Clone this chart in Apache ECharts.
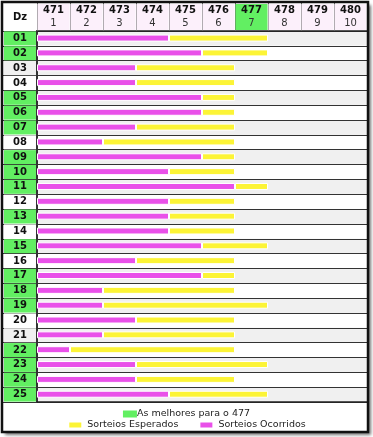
<!DOCTYPE html>
<html>
<head>
<meta charset="utf-8">
<script src="https://cdn.jsdelivr.net/npm/echarts@6/dist/echarts.min.js"></script>
<style>
html, body { margin: 0; padding: 0; background: #fff; }
#chart { width: 373px; height: 437px; }
</style>
</head>
<body>
<div id="chart"></div>
<script>
// dezenas (linhas)
const dezenas = ['01','02','03','04','05','06','07','08','09','10','11','12','13','14','15','16','17','18','19','20','21','22','23','24','25'];
// sorteios ocorridos / esperados (em número de concursos)
const ocorridos = [4,5,3,3,5,5,3,2,5,4,6,4,4,4,5,3,5,2,2,3,2,1,3,3,4];
const esperados = [3,2,3,3,1,1,3,4,1,2,1,2,2,2,2,3,1,4,5,3,4,5,4,3,3];
// dezenas destacadas em verde
const melhores = ['01','02','05','06','07','09','10','11','13','15','17','18','19','22','23','24','25'];
// cabeçalho
const concursos = ['471','472','473','474','475','476','477','478','479','480'];
const ordem = ['1','2','3','4','5','6','7','8','9','10'];
const concursoAlvo = '477';

const verde = '#62ef62';
const magenta = '#e950e9';
const amarelo = '#fcf436';

const chart = echarts.init(document.getElementById('chart'));

const cell = bg => ({ width: 32, height: 14, lineHeight: 14, align: 'center', backgroundColor: bg, fontWeight: 'bold', fontSize: 10, color: '#111' });
const head = bg => ({ width: 32, height: 13, lineHeight: 13, align: 'center', backgroundColor: bg, fontSize: 10 });

const option = {
  animation: false,
  textStyle: { fontFamily: 'DejaVu Sans' },
  graphic: [
    {
      type: 'rect', z: -10,
      shape: { x: 2, y: 2, width: 366, height: 430 },
      style: { fill: '#fff', shadowColor: 'rgba(0,0,0,0.55)', shadowBlur: 3, shadowOffsetX: 3, shadowOffsetY: 3 }
    },
    {
      type: 'text', z: 50, x: 20, y: 17,
      style: { text: 'Dz', font: 'bold 10px "DejaVu Sans"', fill: '#111', align: 'center', verticalAlign: 'middle' }
    },
    {
      type: 'rect', z: 100,
      shape: { x: 2, y: 2, width: 366, height: 430 },
      style: { fill: 'none', stroke: '#111', lineWidth: 2.5 }
    }
  ],
  legend: [
    {
      data: ['As melhores para o 477'],
      top: 404, left: 'center',
      itemWidth: 14, itemHeight: 7, icon: 'rect',
      textStyle: { fontSize: 9.5, color: '#222', padding: [0, 0, 0, -5] }
    },
    {
      data: ['Sorteios Esperados', 'Sorteios Ocorridos'],
      top: 415, left: 'center',
      itemWidth: 14, itemHeight: 7, icon: 'rect', itemGap: 20,
      textStyle: { fontSize: 9.5, color: '#222' }
    }
  ],
  grid: { left: 37, right: 6, top: 31, bottom: 35, outerBoundsMode: 'none', containLabel: false },
  xAxis: [
    {
      type: 'value', min: 0, max: 10, interval: 1,
      axisLabel: { show: false }, axisTick: { show: false },
      splitLine: { show: false },
      axisLine: { show: true, lineStyle: { color: '#222', width: 1.5 } }
    },
    {
      type: 'category', position: 'top', data: concursos,
      boundaryGap: true,
      axisLine: { show: true, lineStyle: { color: '#222', width: 1.5 } },
      axisTick: { show: true, length: 28, interval: 0, lineStyle: { color: '#666' } },
      axisLabel: {
        interval: 0, margin: 1, align: 'center',
        formatter: (v, i) => {
          const k = v === concursoAlvo ? 'g' : 'p';
          return '{' + k + 'a|' + v + '}\n{' + k + 'b|' + ordem[i] + '}';
        },
        rich: {
          pa: Object.assign(head('#fcf0fb'), { fontWeight: 'bold', color: '#111' }),
          pb: Object.assign(head('#fcf0fb'), { color: '#333' }),
          ga: Object.assign(head(verde), { fontWeight: 'bold', color: '#111' }),
          gb: Object.assign(head(verde), { color: '#333' })
        }
      }
    }
  ],
  yAxis: {
    type: 'category', inverse: true, data: dezenas,
    axisLine: { show: true, lineStyle: { color: '#333', width: 2 } },
    axisTick: { show: true, length: 34, interval: 0, lineStyle: { color: '#333' } },
    splitLine: { show: true, interval: 0, lineStyle: { color: '#333', width: 1 } },
    splitArea: { show: true, interval: 0, areaStyle: { color: ['#f0f0f0', '#ffffff'] } },
    axisLabel: {
      interval: 0, margin: 1, align: 'right',
      formatter: (v, i) => {
        const k = melhores.indexOf(v) >= 0 ? 'g' : (i % 2 === 0 ? 'c' : 'w');
        return '{' + k + '|' + v + '}';
      },
      rich: { g: cell(verde), c: cell('#f0f0f0'), w: cell('#ffffff') }
    }
  },
  series: [
    {
      name: 'Sorteios Ocorridos', type: 'bar', stack: 'total',
      barWidth: 7, data: ocorridos,
      itemStyle: { color: magenta, borderColor: '#fff', borderWidth: 1 }
    },
    {
      name: 'Sorteios Esperados', type: 'bar', stack: 'total',
      barWidth: 7, data: esperados,
      itemStyle: { color: amarelo, borderColor: '#fff', borderWidth: 1 }
    },
    {
      name: 'As melhores para o 477', type: 'bar', data: [],
      itemStyle: { color: verde }
    }
  ]
};

chart.setOption(option);
</script>
</body>
</html>
